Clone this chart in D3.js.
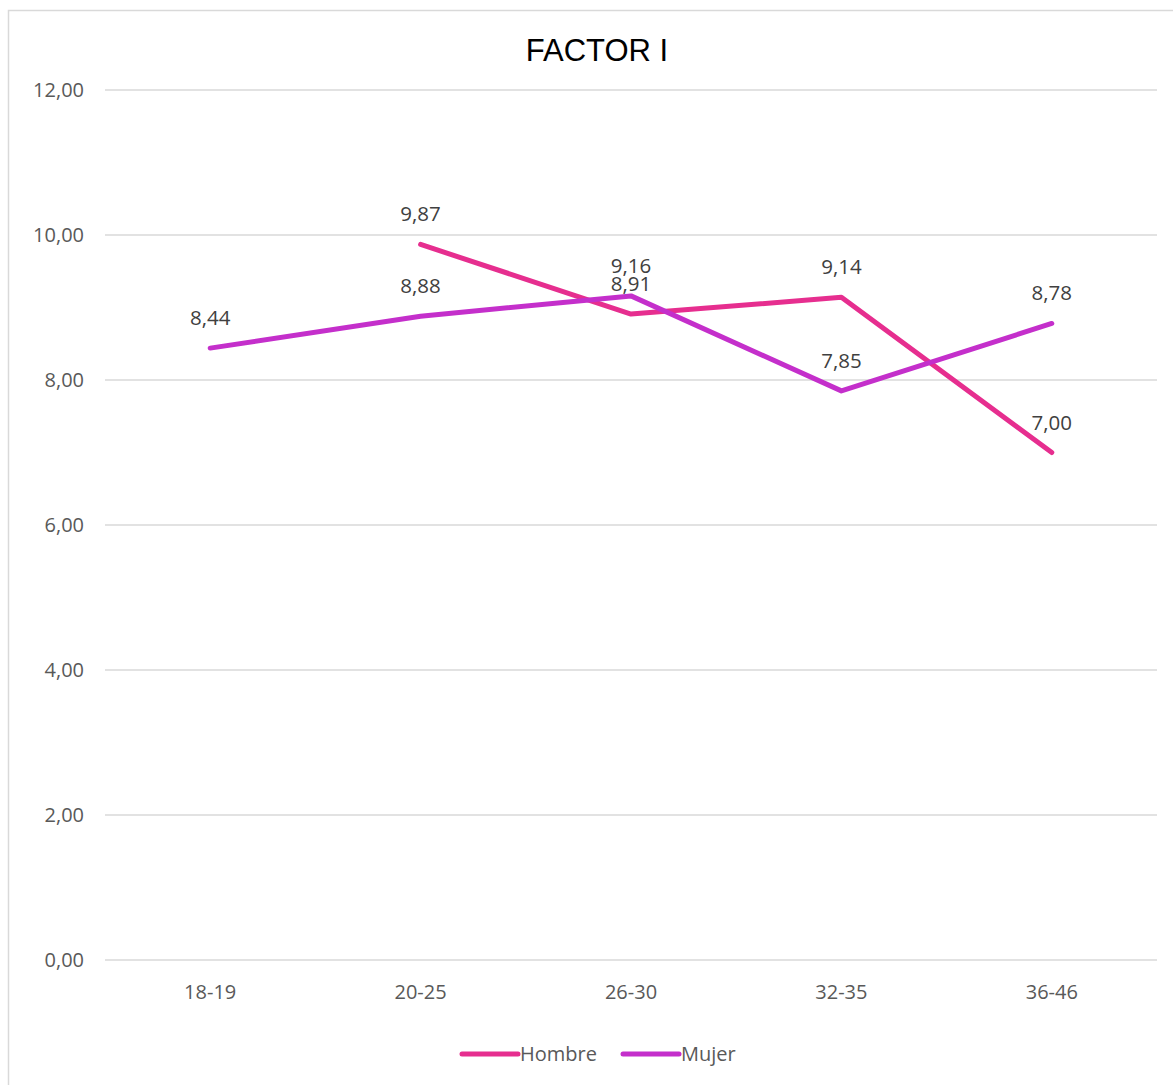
<!DOCTYPE html>
<html>
<head>
<meta charset="utf-8">
<script src="https://cdn.jsdelivr.net/npm/d3@7"></script>
<style>
  body { margin: 0; background: #fff; }
  text { font-family: "Open Sans", "Noto Sans", sans-serif; }
</style>
</head>
<body>
<svg width="1173" height="1085"></svg>
<script>
// data
const categories = ["18-19", "20-25", "26-30", "32-35", "36-46"]
const hombre = [null, 9.87, 8.91, 9.14, 7.00]
const mujer = [8.44, 8.88, 9.16, 7.85, 8.78]
const yTicks = [0, 2, 4, 6, 8, 10, 12]

const svg = d3.select("svg")
const fmt = v => v.toFixed(2).replace(".", ",")

// outer frame (cut off at the right and bottom in the picture)
svg.append("rect")
  .attr("x", 8.5).attr("y", 10.5)
  .attr("width", 1180).attr("height", 1100)
  .attr("fill", "none").attr("stroke", "#d9d9d9").attr("stroke-width", 1.5)

const x = d3.scaleBand().domain(categories).range([105, 1157])
const y = d3.scaleLinear().domain([0, 12]).range([960, 90])
const cx = c => x(c) + x.bandwidth() / 2

// gridlines
svg.append("g").selectAll("line").data(yTicks).enter().append("line")
  .attr("x1", 105).attr("x2", 1157)
  .attr("y1", d => y(d)).attr("y2", d => y(d))
  .attr("stroke", "#d9d9d9").attr("stroke-width", 1.3)

// y axis labels
svg.append("g").selectAll("text").data(yTicks).enter().append("text")
  .attr("x", 84).attr("y", d => y(d) + 7)
  .attr("text-anchor", "end")
  .attr("font-size", 20).attr("fill", "#595959")
  .text(d => fmt(d))

// x axis labels
svg.append("g").selectAll("text").data(categories).enter().append("text")
  .attr("x", d => cx(d)).attr("y", 999)
  .attr("text-anchor", "middle")
  .attr("font-size", 20).attr("fill", "#595959")
  .text(d => d)

// title
svg.append("text")
  .attr("x", 597).attr("y", 61)
  .attr("text-anchor", "middle")
  .style("font-family", "'Liberation Sans', Arial, sans-serif")
  .attr("font-size", 31).attr("fill", "#000")
  .text("FACTOR I")

const series = [
  { name: "Hombre", values: hombre, color: "#e62e8f" },
  { name: "Mujer", values: mujer, color: "#c42fcb" }
]

const line = d3.line()
  .defined(d => d.v != null)
  .x(d => cx(d.c))
  .y(d => y(d.v))

series.forEach(s => {
  let pts = categories.map((c, i) => ({ c: c, v: s.values[i] }))
  svg.append("path")
    .datum(pts)
    .attr("d", line)
    .attr("fill", "none")
    .attr("stroke", s.color)
    .attr("stroke-width", 5)
    .attr("stroke-linejoin", "round")
    .attr("stroke-linecap", "round")

  svg.append("g").selectAll("text").data(pts.filter(d => d.v != null)).enter().append("text")
    .attr("x", d => cx(d.c))
    .attr("y", d => y(d.v) - 23)
    .attr("text-anchor", "middle")
    .attr("font-size", 20.5).attr("fill", "#404040")
    .text(d => fmt(d.v))
})

// legend
const legend = svg.append("g")
let lx = [462, 623]
series.forEach((s, i) => {
  legend.append("line")
    .attr("x1", lx[i]).attr("x2", lx[i] + 56)
    .attr("y1", 1054).attr("y2", 1054)
    .attr("stroke", s.color).attr("stroke-width", 5)
    .attr("stroke-linecap", "round")
  legend.append("text")
    .attr("x", lx[i] + 58).attr("y", 1061)
    .attr("font-size", 20).attr("fill", "#595959")
    .text(s.name)
})
</script>
</body>
</html>
